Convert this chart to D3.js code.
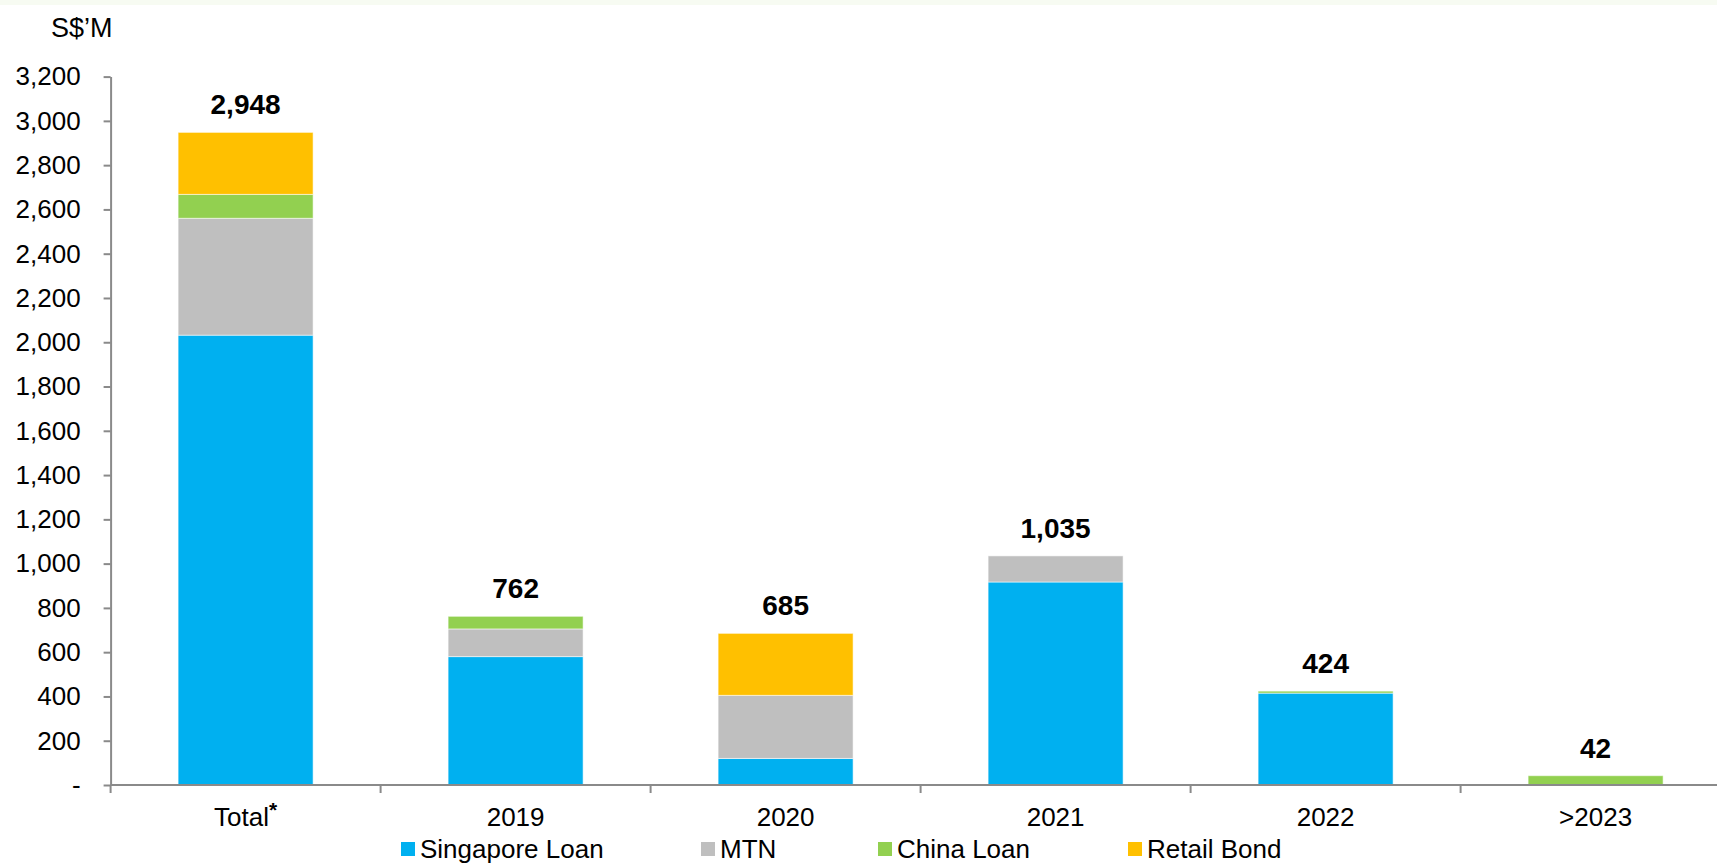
<!DOCTYPE html>
<html>
<head>
<meta charset="utf-8">
<script src="https://cdn.jsdelivr.net/npm/d3@7"></script>
<style>
  html, body { margin: 0; padding: 0; background: #fff; }
  svg { display: block; font-family: "Liberation Sans", Arial, sans-serif; }
</style>
</head>
<body>
<svg id="chart" width="1717" height="864"></svg>
<script>
// Debt maturity profile, S$ million
const categories = ["Total", "2019", "2020", "2021", "2022", ">2023"];
const seriesNames = ["Singapore Loan", "MTN", "China Loan", "Retail Bond"];
const singaporeLoan = [2032, 580, 120, 917, 415, 0];
const mtn           = [528, 125, 285, 118, 0, 0];
const chinaLoan     = [108, 57, 0, 0, 9, 42];
const retailBond    = [280, 0, 280, 0, 0, 0];
const yTicks = [0, 200, 400, 600, 800, 1000, 1200, 1400, 1600, 1800, 2000, 2200, 2400, 2600, 2800, 3000, 3200];
const colors = ["#00B0F0", "#BFBFBF", "#92D050", "#FFC000"];

const svg = d3.select("#chart");
const W = 1717, H = 864;

// faint tint along the top edge
svg.append("rect").attr("x", 0).attr("y", 0).attr("width", W).attr("height", 5).attr("fill", "#f7fbf2");

const rows = categories.map((c, i) => ({
  cat: c,
  "Singapore Loan": singaporeLoan[i],
  "MTN": mtn[i],
  "China Loan": chinaLoan[i],
  "Retail Bond": retailBond[i]
}));

const left = 110.6, plotBottom = 785, plotTop = 76.6;
const x = d3.scaleBand().domain(categories).range([left, left + 270 * categories.length])
  .paddingInner(0.5).paddingOuter(0.25);
const y = d3.scaleLinear().domain([0, 3200]).range([plotBottom, plotTop]);
const color = d3.scaleOrdinal().domain(seriesNames).range(colors);

const stacked = d3.stack().keys(seriesNames)(rows);

// bars
const g = svg.append("g");
g.selectAll("g.series").data(stacked).join("g")
  .attr("class", "series")
  .attr("fill", d => color(d.key))
  .selectAll("rect").data(d => d.filter(s => s[1] - s[0] > 0)).join("rect")
  .attr("x", d => x(d.data.cat))
  .attr("width", x.bandwidth())
  .attr("y", d => y(d[1]))
  .attr("height", d => y(d[0]) - y(d[1]))
  .attr("stroke", "#ffffff")
  .attr("stroke-opacity", 0.55)
  .attr("stroke-width", 1);

// value labels above bars
const fmt = d3.format(",");
svg.append("g").selectAll("text").data(rows).join("text")
  .attr("x", d => x(d.cat) + x.bandwidth() / 2)
  .attr("y", d => y(d3.sum(seriesNames, k => d[k])) - 18)
  .attr("text-anchor", "middle")
  .attr("font-size", 28)
  .attr("font-weight", "bold")
  .attr("fill", "#000")
  .text(d => fmt(d3.sum(seriesNames, k => d[k])));

const axisColor = "#8a8a8a";

// y axis
const yAxis = svg.append("g").attr("transform", `translate(${left},0)`)
  .call(d3.axisLeft(y).tickValues(yTicks).tickSize(7).tickSizeOuter(0).tickPadding(23)
    .tickFormat(v => v === 0 ? "-" : fmt(v)));
yAxis.selectAll("path.domain").attr("stroke", axisColor).attr("stroke-width", 2);
yAxis.selectAll(".tick line").attr("stroke", axisColor).attr("stroke-width", 2);
yAxis.selectAll(".tick text").attr("font-size", 26).attr("fill", "#000")
  .attr("font-family", "'Liberation Sans', Arial, sans-serif");

// x axis: baseline, category boundary ticks, labels
const xAxis = svg.append("g");
const [r0, r1] = x.range();
xAxis.append("line").attr("x1", r0).attr("x2", r1).attr("y1", plotBottom).attr("y2", plotBottom)
  .attr("stroke", axisColor).attr("stroke-width", 2);
const gap = (x.step() - x.bandwidth()) / 2;
const bounds = categories.map(c => x(c) - gap).concat([x(categories[categories.length - 1]) + x.bandwidth() + gap]);
xAxis.selectAll("line.tk").data(bounds).join("line").attr("class", "tk")
  .attr("x1", d => d).attr("x2", d => d).attr("y1", plotBottom).attr("y2", plotBottom + 8)
  .attr("stroke", axisColor).attr("stroke-width", 2);
const catLabels = xAxis.selectAll("text.cat").data(categories).join("text").attr("class", "cat")
  .attr("x", d => x(d) + x.bandwidth() / 2)
  .attr("y", 826)
  .attr("text-anchor", "middle")
  .attr("font-size", 26)
  .attr("fill", "#000");
catLabels.each(function (d) {
  const t = d3.select(this);
  if (d === "Total") {
    t.append("tspan").text("Total");
    t.append("tspan").attr("font-size", 21).attr("font-weight", "bold").attr("dy", -9).text("*");
  } else {
    t.text(d);
  }
});

// y-axis unit label
svg.append("text").attr("x", 51).attr("y", 37).attr("font-size", 27).attr("fill", "#000").text("S$\u2019M");

// legend
const legendX = [401, 701, 878, 1128];
const legend = svg.append("g").selectAll("g").data(seriesNames).join("g")
  .attr("transform", (d, i) => `translate(${legendX[i]},842)`);
legend.append("rect").attr("width", 14).attr("height", 14).attr("fill", d => color(d));
legend.append("text").attr("x", 19).attr("y", 16).attr("font-size", 26).attr("fill", "#000").text(d => d);
</script>
</body>
</html>
